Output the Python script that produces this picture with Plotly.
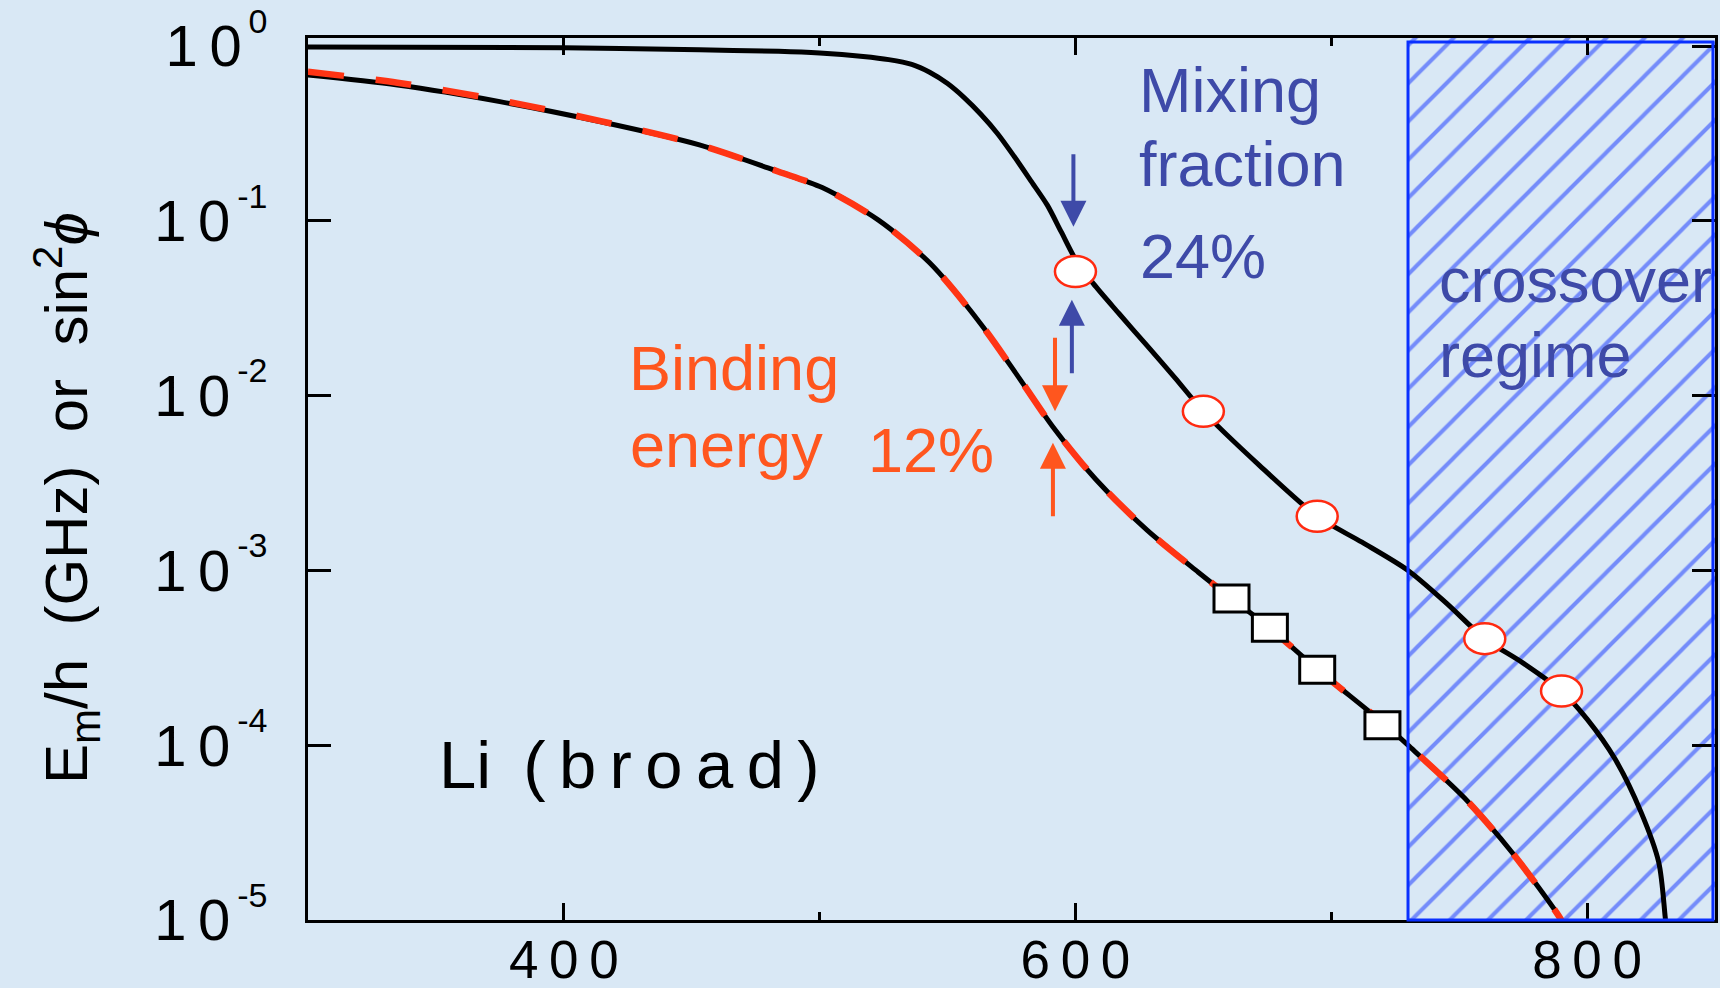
import math
import plotly.graph_objects as go

# ---------------- data ----------------
# upper black curve (mixing fraction, sin^2 phi)
x_upper = [300, 400, 453, 484, 500, 517, 527, 536, 543, 550, 556.5, 563, 569.5, 576, 582.5,
           589, 594.5, 600, 607, 617, 628, 639, 650, 672, 694.5, 712, 730, 745, 760, 775,
           790, 800, 811, 821, 828, 830.5, 831.5]
y_upper = [0.989, 0.979, 0.951, 0.933, 0.912, 0.871, 0.836, 0.785, 0.708, 0.610, 0.507,
           0.407, 0.316, 0.234, 0.170, 0.123, 0.0861, 0.0603, 0.0437, 0.0295, 0.0193,
           0.0126, 0.00813, 0.00398, 0.00204, 0.00145, 0.00100, 6.5e-4, 4.07e-4, 2.95e-4,
           2.04e-4, 1.41e-4, 8.3e-5, 4.17e-5, 2.14e-5, 1.05e-5, 7.1e-6]

# lower black curve (binding energy E_m/h, GHz)
x_lower = [300, 335, 375, 414, 453, 484, 501, 523, 543, 563, 578, 591, 608, 628, 648,
           661, 676, 694.5, 720, 730, 752, 771, 789, 792]
y_lower = [0.682, 0.598, 0.481, 0.370, 0.272, 0.191, 0.155, 0.101, 0.0575, 0.0257, 0.0126,
           0.00668, 0.00331, 0.00170, 9.77e-4, 6.92e-4, 4.68e-4, 2.72e-4, 1.35e-4, 1.0e-4,
           5.0e-5, 2.4e-5, 1.05e-5, 8.7e-6]

# red dashed fit (nearly on top of the lower curve)
x_fit = [300, 335, 375, 414, 453, 484, 501, 523, 543, 563, 578, 591, 608, 628, 648,
         661, 676, 694.5, 720, 730, 752, 771, 789, 792]
y_fit = [0.713, 0.617, 0.490, 0.373, 0.272, 0.191, 0.155, 0.101, 0.0575, 0.0257, 0.0126,
         0.00668, 0.00331, 0.00170, 9.77e-4, 6.92e-4, 4.68e-4, 2.72e-4, 1.35e-4, 1.0e-4,
         5.0e-5, 2.4e-5, 1.05e-5, 8.7e-6]

# measured points
mix_x = [600, 650, 694.5, 760, 790]
mix_y = [0.0513, 0.00813, 0.00204, 4.07e-4, 2.04e-4]
bind_x = [661, 676, 694.5, 720]
bind_y = [6.9e-4, 4.7e-4, 2.7e-4, 1.3e-4]

# crossover regime (x range)
crossover_x = [730, 850]

# arrows: x, tip value, tail offset (px, +down)
blue_arrow_x = [599.2, 598.6]
blue_arrow_tip = [0.0925, 0.0354]
blue_arrow_off = [-74, 75]
orange_arrow_x = [592.0, 591.2]
orange_arrow_tip = [0.00813, 0.00537]
orange_arrow_off = [-75, 75]

# axes
x_range = [300, 850]
x_tickvals = [400, 600, 800]
x_ticktext = ["4\u20090\u20090", "6\u20090\u20090", "8\u20090\u20090"]
x_minor = [500, 700]
y_range_log = [-5, 0.046]
y_tickvals = [1, 1e-1, 1e-2, 1e-3, 1e-4, 1e-5]
y_exponents = ["0", "-1", "-2", "-3", "-4", "-5"]

# ---------------- styling ----------------
FONT = "Liberation Sans, Arial, sans-serif"
BG = "#d9e8f5"
BLUE_TXT = "#3e4aa8"
ORANGE = "#ff561e"
RED = "#ff3414"
HATCH = "#0f2fff"

PLOT_TOP, PLOT_BOTTOM, PLOT_LEFT, PLOT_RIGHT = 38, 920, 308, 1715
PX_PER_DECADE = (PLOT_BOTTOM - PLOT_TOP) / (y_range_log[1] - y_range_log[0])

fig = go.Figure()

# hatched crossover region
fig.add_trace(go.Scatter(
    x=[crossover_x[0], crossover_x[1], crossover_x[1], crossover_x[0], crossover_x[0]],
    y=[1e-6, 1e-6, 10, 10, 1e-6],
    mode="lines", line=dict(width=0), fill="toself",
    fillcolor="rgba(0,0,0,0)",
    fillpattern=dict(shape="/", fgcolor=HATCH, size=27, solidity=0.15),
    hoverinfo="skip", showlegend=False))

fig.add_trace(go.Scatter(x=x_upper, y=y_upper, mode="lines",
                         line=dict(color="black", width=5, shape="spline", smoothing=0.8),
                         showlegend=False))
fig.add_trace(go.Scatter(x=x_lower, y=y_lower, mode="lines",
                         line=dict(color="black", width=5, shape="spline", smoothing=0.8),
                         showlegend=False))
fig.add_trace(go.Scatter(x=x_fit, y=y_fit, mode="lines",
                         line=dict(color=RED, width=6.5, shape="spline", smoothing=0.8,
                                   dash="36px,32px"),
                         showlegend=False))

# border of crossover region
fig.add_shape(type="rect", xref="x", yref="paper", x0=crossover_x[0], x1=crossover_x[1] - 0.8,
              y0=0.0, y1=0.9955, line=dict(color="#0a30ff", width=3), layer="above")


def half_factor(px):
    return 10 ** (px / PX_PER_DECADE)


# oval markers (mixing fraction)
fo = half_factor(15.5)
for xi, yi in zip(mix_x, mix_y):
    fig.add_shape(type="circle", xref="x", yref="y", xsizemode="pixel", ysizemode="scaled",
                  xanchor=xi, x0=-20.5, x1=20.5, y0=yi / fo, y1=yi * fo,
                  line=dict(color="#ff2a10", width=2.5), fillcolor="white", layer="above")
# square markers (binding energy)
fs = half_factor(13.5)
for xi, yi in zip(bind_x, bind_y):
    fig.add_shape(type="rect", xref="x", yref="y", xsizemode="pixel", ysizemode="scaled",
                  xanchor=xi, x0=-17.5, x1=17.5, y0=yi / fs, y1=yi * fs,
                  line=dict(color="black", width=3), fillcolor="white", layer="above")

# arrows
for xs, ys, offs, col in [(blue_arrow_x, blue_arrow_tip, blue_arrow_off, BLUE_TXT),
                          (orange_arrow_x, orange_arrow_tip, orange_arrow_off, ORANGE)]:
    for xi, yi, oi in zip(xs, ys, offs):
        fig.add_annotation(x=xi, y=math.log10(yi), xref="x", yref="y", text="",
                           showarrow=True, ax=0, ay=oi, arrowcolor=col, arrowwidth=4,
                           arrowhead=2, arrowsize=1.3, standoff=0)


# text labels (paper coordinates)
def paper_x(px):
    return (px - PLOT_LEFT) / float(PLOT_RIGHT - PLOT_LEFT)


def paper_y(py):
    return (PLOT_BOTTOM - py) / float(PLOT_BOTTOM - PLOT_TOP)


texts = [
    ("Mixing", 1137, 90, BLUE_TXT, 63),
    ("fraction", 1137, 164, BLUE_TXT, 63),
    ("24%", 1138, 256, BLUE_TXT, 63),
    ("Binding", 627, 368, ORANGE, 63),
    ("energy", 628, 445, ORANGE, 63),
    ("12%", 866, 450, ORANGE, 63),
    ("crossover", 1437, 280, BLUE_TXT, 63),
    ("regime", 1437, 355, BLUE_TXT, 63),
    ("Li \u2009(\u2009b\u2009r\u2009o\u2009a\u2009d\u2009)", 437, 764, "black", 67),
]
for t, px, py, col, sz in texts:
    fig.add_annotation(x=paper_x(px), y=paper_y(py), xref="paper", yref="paper", text=t,
                       showarrow=False, xanchor="left", yanchor="middle",
                       font=dict(family=FONT, size=sz, color=col))

# y axis title
fig.add_annotation(
    x=paper_x(66), y=paper_y(498), xref="paper", yref="paper",
    text="E<sub>m</sub>/h\u00a0\u00a0(GHz)\u00a0\u00a0or\u00a0\u00a0sin<sup>2</sup><i>\u03d5</i>",
    textangle=-90, showarrow=False, xanchor="center", yanchor="middle",
    font=dict(family=FONT, size=60, color="black"))

y_ticktext = [("1\u20090<span style='font-size:80px'><sup>"
               "<span style='font-size:34px'>\u2009%s</span></sup></span>") % e
              for e in y_exponents]

fig.update_layout(
    width=1720, height=988,
    margin=dict(l=PLOT_LEFT, r=1720 - PLOT_RIGHT, t=PLOT_TOP, b=988 - PLOT_BOTTOM),
    paper_bgcolor=BG, plot_bgcolor=BG,
    showlegend=False,
    font=dict(family=FONT, color="black"),
    xaxis=dict(range=x_range, showline=True, linewidth=3, linecolor="black",
               mirror="allticks", ticks="inside", ticklen=17, tickwidth=3, tickcolor="black",
               tickmode="array", tickvals=x_tickvals, ticktext=x_ticktext,
               tickfont=dict(family=FONT, size=53, color="black"),
               ticklabelstandoff=-9, automargin=False,
               showgrid=False, zeroline=False,
               minor=dict(tickmode="array", tickvals=x_minor, ticks="inside", ticklen=8,
                          tickwidth=3, tickcolor="black", showgrid=False)),
    yaxis=dict(type="log", range=y_range_log, showline=True, linewidth=3, linecolor="black",
               mirror="allticks", ticks="inside", ticklen=23, tickwidth=3, tickcolor="black",
               tickmode="array", tickvals=y_tickvals, ticktext=y_ticktext,
               tickfont=dict(family=FONT, size=58, color="black"),
               ticklabelstandoff=26, automargin=False,
               showgrid=False, zeroline=False),
)

fig.write_html("out.html")
